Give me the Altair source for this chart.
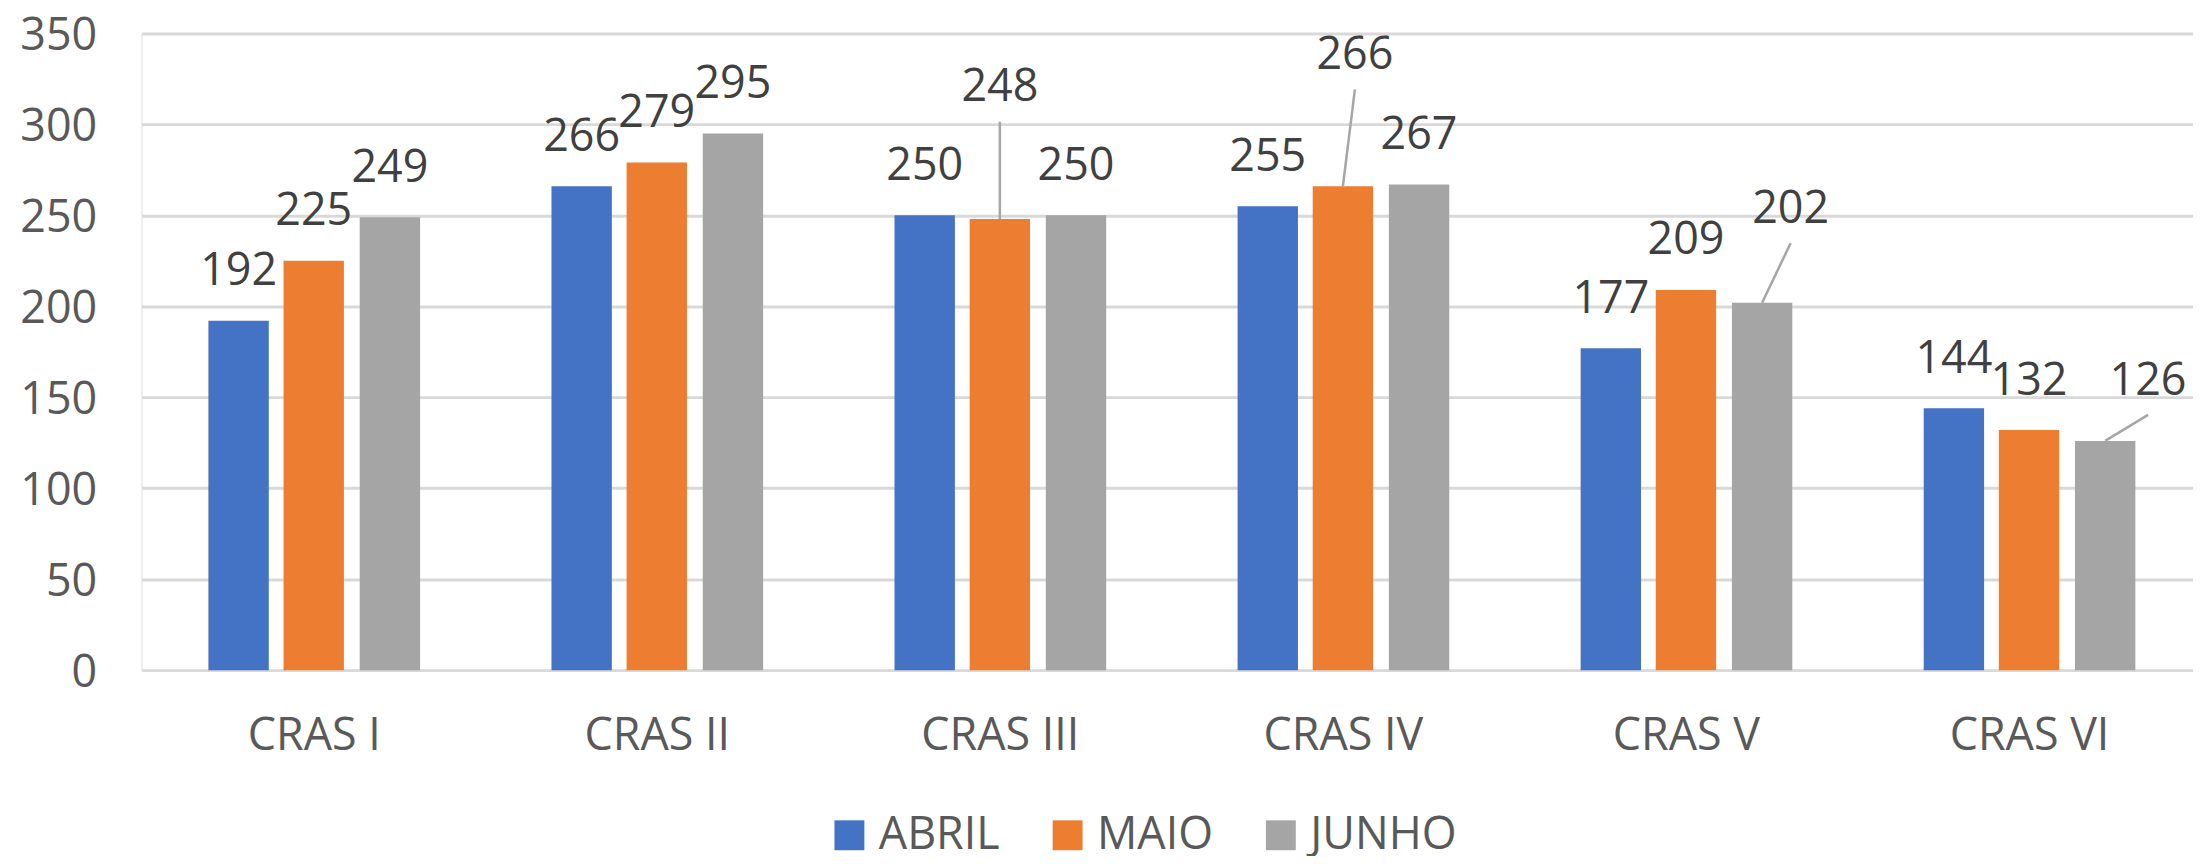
import altair as alt
import pandas as pd

# ---- data -------------------------------------------------------------
categories = ["CRAS I", "CRAS II", "CRAS III", "CRAS IV", "CRAS V", "CRAS VI"]
months = ["ABRIL", "MAIO", "JUNHO"]
abril = [192, 266, 250, 255, 177, 144]
maio = [225, 279, 248, 266, 209, 132]
junho = [249, 295, 250, 267, 202, 126]
colors = ["#4472C4", "#ED7D31", "#A5A5A5"]

# data labels that were dragged away from their bars (with leader lines):
# (category, month) -> (horizontal shift in category units, label centre in value units)
moved_labels = {
    ("CRAS III", "MAIO"): (0.0, 322.0),
    ("CRAS IV", "MAIO"): (0.035, 339.8),
    ("CRAS V", "JUNHO"): (0.083, 255.2),
    ("CRAS VI", "JUNHO"): (0.125, 160.8),
}

# ---- layout constants ----------------------------------------------------
label_lift = 28.8          # default label centre above bar top (value units)
leader_gap = 20.5          # leader line starts this far below label centre
group_offsets = [-0.219, 0.0, 0.222]
half_bar = 0.088

series = [abril, maio, junho]
rows = []
for ci, cat in enumerate(categories):
    for mi, m in enumerate(months):
        v = series[mi][ci]
        xc = ci + group_offsets[mi]
        shift, ly = moved_labels.get((cat, m), (0.0, v + label_lift))
        rows.append(dict(
            cat=cat, month=m, value=v, order=mi,
            x0=xc - half_bar, x1=xc + half_bar, xc=xc,
            label_x=xc + shift, label_y=ly,
            lead=(cat, m) in moved_labels,
            lead_y0=ly - leader_gap,
        ))
df = pd.DataFrame(rows)

W, H = 2059, 639
FONT = "Open Sans"
xscale = alt.Scale(domain=[-0.502, 5.478], nice=False, zero=False)
yscale = alt.Scale(domain=[0, 350], nice=False, zero=True)

cat_js = "[" + ",".join("'%s'" % c for c in categories) + "]"

base = alt.Chart(df)

bars = base.mark_bar().encode(
    x=alt.X(
        "x0:Q", scale=xscale, title=None,
        axis=alt.Axis(
            values=list(range(len(categories))),
            labelExpr=cat_js + "[round(datum.value)]",
            grid=False, ticks=False, domain=False,
            labelFontSize=45, labelFont=FONT, labelColor="#595959",
            labelPadding=44, labelFlush=False, labelOverlap=False,
        ),
    ),
    x2="x1:Q",
    y=alt.Y(
        "value:Q", scale=yscale, title=None,
        axis=alt.Axis(
            values=[0, 50, 100, 150, 200, 250, 300, 350],
            ticks=False, domain=False,
            gridColor="#d9d9d9", gridWidth=3,
            labelFontSize=45, labelFont=FONT, labelColor="#595959",
            labelPadding=45, labelFlush=False, labelOffset=2,
        ),
    ),
    y2=alt.datum(0),
    color=alt.Color(
        "month:N",
        scale=alt.Scale(domain=months, range=colors),
        sort=months,
        legend=alt.Legend(
            title=None, orient="none", legendX=688, legendY=782,
            direction="horizontal", symbolType="square", symbolSize=900,
            symbolStrokeWidth=0, labelFontSize=45, labelFont=FONT,
            labelColor="#595959", labelOffset=7, columnPadding=45, padding=0,
        ),
    ),
)

leaders = base.transform_filter("datum.lead").mark_rule(
    color="#a6a6a6", strokeWidth=2.5
).encode(
    x=alt.X("label_x:Q", scale=xscale, title=None),
    x2="xc:Q",
    y=alt.Y("lead_y0:Q", scale=yscale, title=None),
    y2="value:Q",
)

labels = base.mark_text(
    font=FONT, fontSize=45, color="#404040", baseline="middle", align="center", dy=3
).encode(
    x=alt.X("label_x:Q", scale=xscale, title=None),
    y=alt.Y("label_y:Q", scale=yscale, title=None),
    text="value:Q",
)

chart = (
    alt.layer(bars, leaders, labels)
    .properties(
        width=W, height=H,
        autosize=alt.AutoSizeParams(type="none"),
        padding={"left": 134, "top": 24, "right": 0, "bottom": 185},
    )
    .configure_view(strokeWidth=0)
    .configure(font=FONT)
)

chart.save("out.html", embed_options={"renderer": "svg", "actions": False})
